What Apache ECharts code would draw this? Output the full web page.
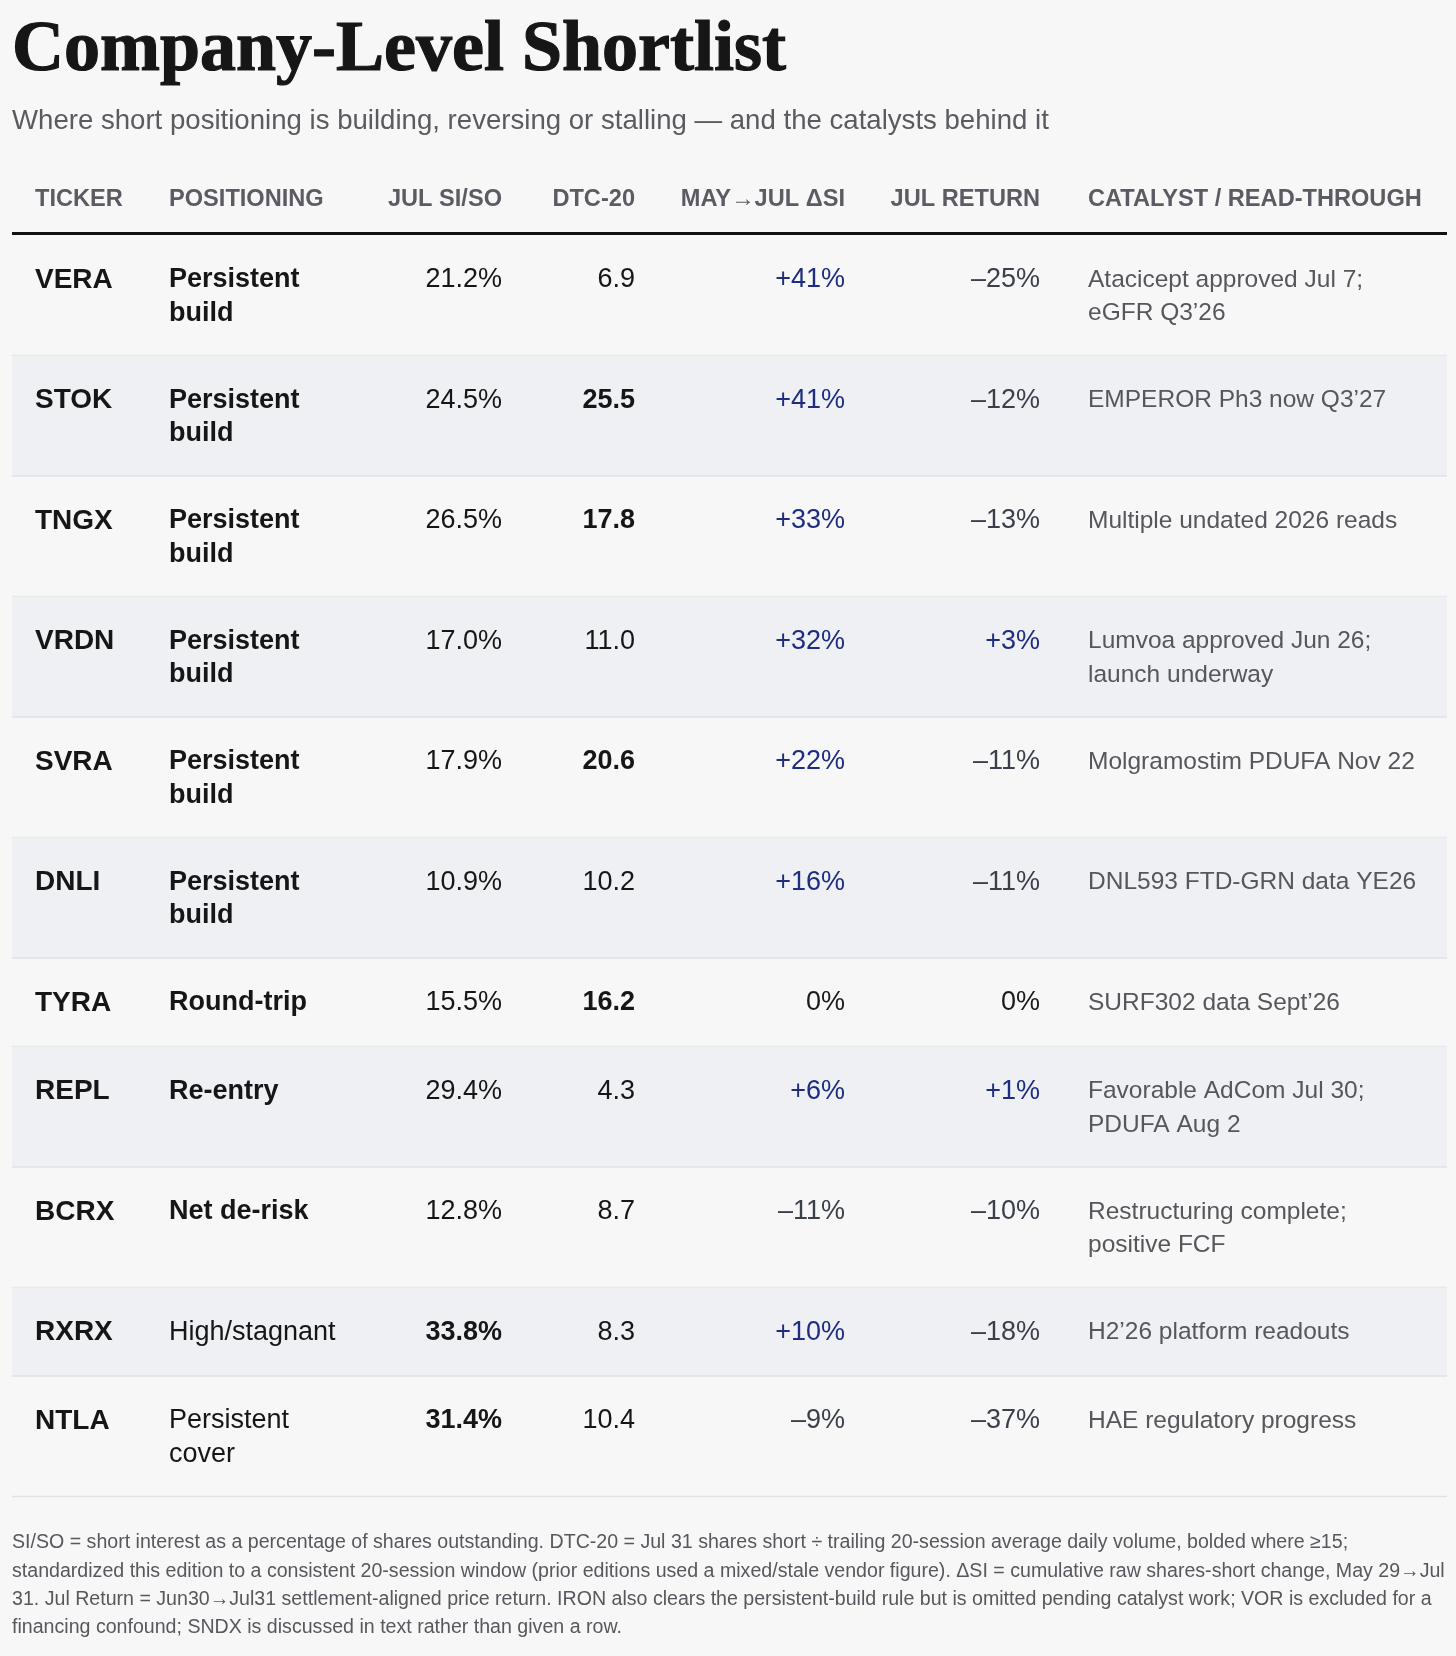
<!DOCTYPE html>
<html lang="en">
  <head>
    <meta charset="UTF-8" />
    <meta name="viewport" content="width=device-width, initial-scale=1.0" />
    <title>Company-Level Shortlist</title>
    <script src="https://cdn.jsdelivr.net/npm/echarts@6.0.0/dist/echarts.min.js"></script>
    <style>
      html, body { margin: 0; background: #f7f7f7; }
    </style>
  </head>
  <body>
    <div id="main" style="width: 1456px; height: 1656px"></div>

    <script type="text/javascript">
      // ---- data ----
      const tickers = ["VERA", "STOK", "TNGX", "VRDN", "SVRA", "DNLI", "TYRA", "REPL", "BCRX", "RXRX", "NTLA"];
      const positioning = [
        "Persistent build", "Persistent build", "Persistent build", "Persistent build",
        "Persistent build", "Persistent build", "Round-trip", "Re-entry", "Net de-risk",
        "High/stagnant", "Persistent cover",
      ];
      const positioningBold = [true, true, true, true, true, true, true, true, true, false, false];
      const julSiSo = [21.2, 24.5, 26.5, 17.0, 17.9, 10.9, 15.5, 29.4, 12.8, 33.8, 31.4];
      const dtc20 = [6.9, 25.5, 17.8, 11.0, 20.6, 10.2, 16.2, 4.3, 8.7, 8.3, 10.4];
      const deltaSi = [41, 41, 33, 32, 22, 16, 0, 6, -11, 10, -9];
      const julReturn = [-25, -12, -13, 3, -11, -11, 0, 1, -10, -18, -37];
      const catalysts = [
        "Atacicept approved Jul 7; eGFR Q3\u201926",
        "EMPEROR Ph3 now Q3\u201927",
        "Multiple undated 2026 reads",
        "Lumvoa approved Jun 26; launch underway",
        "Molgramostim PDUFA Nov 22",
        "DNL593 FTD-GRN data YE26",
        "SURF302 data Sept\u201926",
        "Favorable AdCom Jul 30; PDUFA Aug 2",
        "Restructuring complete; positive FCF",
        "H2\u201926 platform readouts",
        "HAE regulatory progress",
      ];
      const columnHeaders = ["TICKER", "POSITIONING", "JUL SI/SO", "DTC-20", "MAY\u2192JUL \u0394SI", "JUL RETURN", "CATALYST / READ-THROUGH"];

      const titleText = "Company-Level Shortlist";
      const subtitleText = "Where short positioning is building, reversing or stalling \u2014 and the catalysts behind it";
      const footnoteLines = [
        "SI/SO = short interest as a percentage of shares outstanding. DTC-20 = Jul 31 shares short \u00f7 trailing 20-session average daily volume, bolded where \u226515;",
        "standardized this edition to a consistent 20-session window (prior editions used a mixed/stale vendor figure). \u0394SI = cumulative raw shares-short change, May 29\u2192Jul",
        "31. Jul Return = Jun30\u2192Jul31 settlement-aligned price return. IRON also clears the persistent-build rule but is omitted pending catalyst work; VOR is excluded for a",
        "financing confound; SNDX is discussed in text rather than given a row.",
      ];

      // ---- layout ----
      const SANS = '"Liberation Sans", Helvetica, Arial, sans-serif';
      const SERIF = '"Liberation Serif", "Times New Roman", serif';
      const TABLE_LEFT = 12;
      const TABLE_RIGHT = 1447;
      const TABLE_TOP = 235;
      const ROW_LINE = 32;     // extra row height per wrapped line
      const TEXT_LINE = 33.5;  // line height of the cell text
      const PAD_TOP = 28;
      const PAD_BOTTOM = 28.5;
      const BODY_SIZE = 27;
      const TICKER_SIZE = 28;
      const CAT_SIZE = 24.5;
      // x positions relative to the table's left edge
      const cols = [
        { x: 23, align: "left" },
        { x: 157, align: "left", width: 180 },
        { x: 490, align: "right" },
        { x: 623, align: "right" },
        { x: 833, align: "right" },
        { x: 1028, align: "right" },
        { x: 1076, align: "left", width: 338 },
      ];

      const measureCtx = document.createElement("canvas").getContext("2d");
      function wrap(text, font, width) {
        measureCtx.font = font;
        const words = text.split(" ");
        const lines = [];
        let cur = "";
        words.forEach((w) => {
          const test = cur ? cur + " " + w : w;
          if (cur && measureCtx.measureText(test).width > width) {
            lines.push(cur);
            cur = w;
          } else {
            cur = test;
          }
        });
        lines.push(cur);
        return lines;
      }

      const posLines = positioning.map((p, i) =>
        wrap(p, (positioningBold[i] ? "bold " : "") + BODY_SIZE + "px " + SANS, cols[1].width)
      );
      const catLines = catalysts.map((c) => wrap(c, CAT_SIZE + "px " + SANS, cols[6].width));
      const rowHeights = tickers.map(
        (t, i) => PAD_TOP + PAD_BOTTOM + ROW_LINE * Math.max(posLines[i].length, catLines[i].length)
      );
      const rowTops = [];
      rowHeights.reduce((acc, h, i) => { rowTops[i] = acc; return acc + h; }, 0);
      const tableHeight = rowHeights.reduce((a, b) => a + b, 0);

      const fmtPct = (v) => (v > 0 ? "+" + v + "%" : v < 0 ? "\u2013" + Math.abs(v) + "%" : "0%");
      const pctColor = (v) => (v > 0 ? "#1f2d80" : v < 0 ? "#3b3f4a" : "#1a1a1a");

      function cellText(col, top, text, opts) {
        return {
          type: "text",
          x: col.xPx,
          y: top + PAD_TOP - (TEXT_LINE - ROW_LINE) / 2 + 1,
          silent: true,
          style: {
            text: text,
            fontFamily: SANS,
            fontSize: opts.size || BODY_SIZE,
            fontWeight: opts.bold ? "bold" : "normal",
            fill: opts.color || "#161616",
            align: col.align,
            verticalAlign: "top",
            lineHeight: TEXT_LINE,
          },
        };
      }

      function renderRow(params, api) {
        const i = params.dataIndex;
        const p0 = api.coord([0, api.value(1)]);
        const p1 = api.coord([0, api.value(1) + api.value(2)]);
        const top = p0[1];
        const bottom = p1[1];
        const left = p0[0];
        const right = api.coord([TABLE_RIGHT - TABLE_LEFT, 0])[0];
        const c = cols.map((col) => Object.assign({}, col, { xPx: api.coord([col.x, 0])[0] }));
        const children = [];
        if (i % 2 === 1) {
          children.push({
            type: "rect",
            silent: true,
            shape: { x: left, y: top, width: right - left, height: bottom - top },
            style: { fill: "#eff0f4" },
          });
        }
        children.push({
          type: "line",
          silent: true,
          shape: { x1: left, y1: bottom, x2: right, y2: bottom },
          style: { stroke: "#e1e2e6", lineWidth: 1.5 },
        });
        children.push(cellText(c[0], top, tickers[i], { bold: true, size: TICKER_SIZE }));
        children.push(cellText(c[1], top, posLines[i].join("\n"), { bold: positioningBold[i] }));
        children.push(cellText(c[2], top, julSiSo[i].toFixed(1) + "%", { bold: julSiSo[i] >= 30 }));
        children.push(cellText(c[3], top, dtc20[i].toFixed(1), { bold: dtc20[i] >= 15 }));
        children.push(cellText(c[4], top, fmtPct(deltaSi[i]), { color: pctColor(deltaSi[i]) }));
        children.push(cellText(c[5], top, fmtPct(julReturn[i]), { color: pctColor(julReturn[i]) }));
        children.push(cellText(c[6], top, catLines[i].join("\n"), { size: CAT_SIZE, color: "#56565c" }));
        return { type: "group", children: children };
      }

      const headerElements = columnHeaders.map((h, k) => ({
        type: "text",
        x: TABLE_LEFT + cols[k].x,
        y: 188,
        silent: true,
        style: {
          text: h,
          fontFamily: SANS,
          fontSize: 23.6,
          fontWeight: "bold",
          fill: "#5b5b63",
          align: cols[k].align,
          verticalAlign: "top",
          lineHeight: 23.6,
        },
      }));

      const footerTop = TABLE_TOP + tableHeight + 32;

      let myChart = echarts.init(document.getElementById("main"), null, { renderer: "canvas" });

      const options = {
        backgroundColor: "#f7f7f7",
        animation: false,
        grid: { left: TABLE_LEFT, top: TABLE_TOP, width: TABLE_RIGHT - TABLE_LEFT, height: tableHeight },
        xAxis: { type: "value", min: 0, max: TABLE_RIGHT - TABLE_LEFT, show: false },
        yAxis: { type: "value", min: 0, max: tableHeight, inverse: true, show: false },
        graphic: {
          elements: [
            {
              type: "text",
              x: 12,
              y: 15,
              silent: true,
              style: {
                text: titleText,
                fontFamily: SERIF,
                fontSize: 72,
                fontWeight: "bold",
                fill: "#161616",
                stroke: "#161616",
                lineWidth: 1.2,
                verticalAlign: "top",
                lineHeight: 72,
              },
            },
            {
              type: "text",
              x: 12,
              y: 108,
              silent: true,
              style: {
                text: subtitleText,
                fontFamily: SANS,
                fontSize: 27.6,
                fill: "#5a5a60",
                verticalAlign: "top",
                lineHeight: 27.6,
              },
            },
            ...headerElements,
            {
              type: "line",
              silent: true,
              shape: { x1: TABLE_LEFT, y1: 233.5, x2: TABLE_RIGHT, y2: 233.5 },
              style: { stroke: "#111111", lineWidth: 3 },
            },
            {
              type: "text",
              x: 12,
              y: footerTop,
              silent: true,
              style: {
                text: footnoteLines.join("\n"),
                fontFamily: SANS,
                fontSize: 19.6,
                fill: "#57575d",
                verticalAlign: "top",
                lineHeight: 28.4,
              },
            },
          ],
        },
        series: [
          {
            type: "custom",
            coordinateSystem: "cartesian2d",
            silent: true,
            encode: { x: 0, y: 1 },
            data: tickers.map((t, i) => [0, rowTops[i], rowHeights[i]]),
            renderItem: renderRow,
          },
        ],
      };

      myChart.setOption(options);
    </script>
  </body>
</html>
